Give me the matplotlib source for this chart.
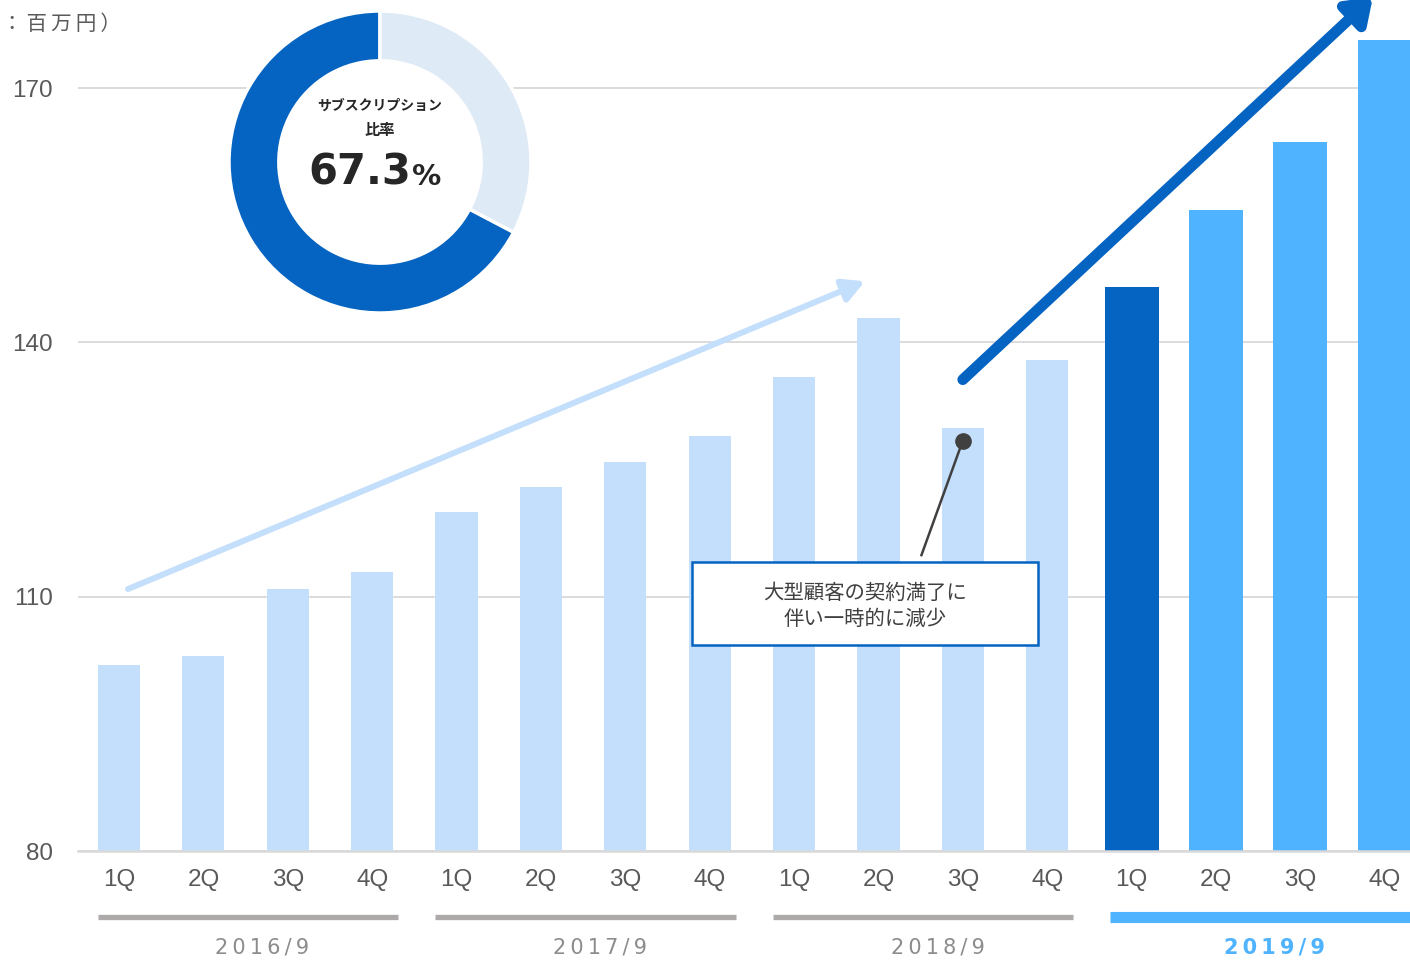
import matplotlib
matplotlib.use("Agg")
import matplotlib.pyplot as plt
from matplotlib.patches import Rectangle, Circle
from matplotlib.transforms import blended_transform_factory

# quarterly sales (million yen), four fiscal years
quarters = ["1Q", "2Q", "3Q", "4Q"] * 4
years = ["2016/9", "2017/9", "2018/9", "2019/9"]
sales = [101.9, 103.0, 110.9, 112.9,
         120.0, 122.9, 125.9, 129.0,
         135.9, 142.9, 129.9, 137.9,
         146.5, 155.6, 163.6, 175.7]
yticks = [80, 110, 140, 170]
sub_ratio = 67.3
note = "大型顧客の契約満了に\n伴い一時的に減少"

PALE = "#C4DFFB"
MID = "#4FB3FF"
DARK = "#0563C1"
RING = "#DEEAF6"
GREY = "#595959"

W, H = 1410, 960
fig = plt.figure(figsize=(W / 100, H / 100), dpi=100)
ax = fig.add_axes([78 / W, 109 / H, 1332 / W, 851 / H])

n = len(sales)
xs = list(range(n))
colors = [PALE] * 12 + [DARK] + [MID] * 3
widths = [0.5] * 12 + [0.64] * 4
ax.bar(xs, [v - 80 for v in sales], bottom=80, width=widths, color=colors, zorder=2)

ax.set_xlim(-0.486, 15.30)
ax.set_ylim(80, 80 + 851 / (763 / 90))
ax.set_yticks(yticks)
ax.set_xticks(xs)
ax.set_xticklabels(quarters)
ax.yaxis.grid(True, color="#D9D9D9", lw=1.3)
ax.set_axisbelow(True)
for s in ["top", "right", "left"]:
    ax.spines[s].set_visible(False)
ax.spines["bottom"].set_color("#D9D9D9")
ax.spines["bottom"].set_linewidth(1.8)
ax.tick_params(length=0, labelsize=17.5, labelcolor=GREY)
ax.tick_params(axis="y", pad=18)
ax.tick_params(axis="x", pad=13)
for lab in ax.get_xticklabels() + ax.get_yticklabels():
    lab.set_fontfamily("Liberation Sans")

# fiscal-year brackets under the quarter labels
tr = blended_transform_factory(ax.transData, ax.transAxes)
for g, yr in enumerate(years):
    x0, x1 = 4 * g - 0.25, 4 * g + 3 + 0.31
    last = g == len(years) - 1
    ax.plot([x0, x1], [-0.0776, -0.0776], transform=tr, clip_on=False,
            color=MID if last else "#ADA9A9", lw=8 if last else 3.8,
            solid_capstyle="butt")
    ax.text(4 * g + 1.7, -0.113, "\u2009".join(yr), transform=tr,
            ha="center", va="center", fontsize=15, family="DejaVu Sans",
            color=MID if last else "#8C8C8C",
            fontweight="bold" if last else "normal")

# trend arrows
ax.annotate("", xy=(8.84, 147.2), xytext=(0.107, 110.9),
            arrowprops=dict(arrowstyle="-|>,head_length=0.65,head_width=0.35",
                            lw=4.3, color=PALE, shrinkA=0, shrinkB=0,
                            mutation_scale=20), zorder=4)
ax.annotate("", xy=(14.86, 180.73), xytext=(10.0, 135.6), annotation_clip=False,
            arrowprops=dict(arrowstyle="-|>,head_length=0.7,head_width=0.5",
                            lw=7.8, color=DARK, shrinkA=0, shrinkB=0,
                            mutation_scale=20), zorder=4)

# callout for the 2018/9 3Q dip
ax.plot([9.51, 10.0], [114.9, 128.4], color="#404040", lw=1.8, zorder=5)
ax.plot([10.0], [128.4], "o", ms=11, color="#404040", zorder=5)
ax.add_patch(Rectangle((6.79, 104.3), 10.89 - 6.79, 114.09 - 104.3,
                       facecolor="white", edgecolor=DARK, lw=1.8, zorder=5))
ax.text(8.84, 108.85, note, ha="center", va="center", fontsize=14.7,
        family=["Noto Sans CJK JP", "DejaVu Sans"], color="#404040",
        linespacing=1.3, zorder=6)

# unit label, runs off the left edge
fig.text(-72 / W, 1 - 24 / H, "\u2009".join("（単位：百万円）"), ha="left", va="center",
         fontsize=14.8, family=["Noto Sans CJK JP", "DejaVu Sans"], color=GREY)

# subscription ratio donut
dax = fig.add_axes([229 / W, (H - 313) / H, 302 / W, 302 / H])
dax.pie([sub_ratio, 100 - sub_ratio], colors=[DARK, RING], startangle=90,
        counterclock=True, wedgeprops=dict(width=0.33, edgecolor="white", linewidth=2.5))
dax.add_patch(Circle((0, 0), 0.67, color="white", zorder=0))
dax.set_xlim(-1, 1)
dax.set_ylim(-1, 1)
dax.set_aspect("equal")
dax.axis("off")
cjk = ["Noto Sans CJK JP", "DejaVu Sans"]
dax.text(0, 0.37, "サブスクリプション", ha="center", va="center", fontsize=10,
         fontweight="bold", family=cjk, color="#262626")
dax.text(0, 0.21, "比率", ha="center", va="center", fontsize=11,
         fontweight="bold", family=cjk, color="#262626")
dax.text(0.21, -0.152, f"{sub_ratio:.1f}", ha="right", va="baseline", fontsize=30,
         fontweight="bold", family="DejaVu Sans", color="#262626")
dax.text(0.215, -0.152, "%", ha="left", va="baseline", fontsize=21,
         fontweight="bold", family="DejaVu Sans", color="#262626")

fig.savefig("out.png", dpi=100)
